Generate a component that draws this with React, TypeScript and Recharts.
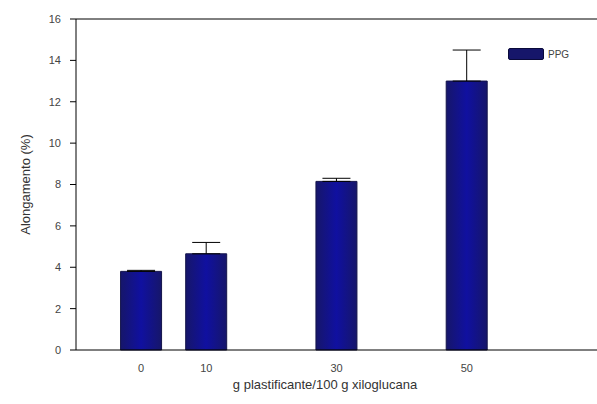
import React from "react";
import { BarChart, Bar, XAxis, YAxis, ErrorBar, ReferenceLine } from "recharts";

// g plastificante / 100 g xiloglucana
const doses = [0, 10, 30, 50];
// alongamento (%)
const alongamento = [3.8, 4.65, 8.15, 13.0];
// desvio (só para cima)
const desvio = [0.05, 0.55, 0.15, 1.5];
const yTicks = [0, 2, 4, 6, 8, 10, 12, 14, 16];

const data = doses.map((d, i) => ({
  dose: d,
  PPG: alongamento[i],
  err: [0, desvio[i]],
}));

const font = '"Liberation Sans", Arial, sans-serif';

function YLabel(props: any) {
  const { viewBox } = props;
  const x = 25;
  const y = viewBox.y + viewBox.height / 2;
  return (
    <text
      x={x}
      y={y}
      transform={`rotate(-90, ${x}, ${y})`}
      textAnchor="middle"
      dominantBaseline="central"
      fontFamily={font}
      fontSize={13}
      fill="#333"
    >
      Alongamento (%)
    </text>
  );
}

function XLabel(props: any) {
  const { viewBox } = props;
  return (
    <text
      x={325}
      y={viewBox.y + 39}
      textAnchor="middle"
      fontFamily={font}
      fontSize={13}
      fill="#333"
    >
      g plastificante/100 g xiloglucana
    </text>
  );
}

export default function App() {
  return (
    <div style={{ position: "absolute", left: 0, top: 0, background: "#fff" }}>
      <BarChart
        width={597}
        height={404}
        data={data}
        margin={{ top: 19, right: 0, bottom: 0, left: 36 }}
      >
        <defs>
          <linearGradient id="barFill" x1="0" y1="0" x2="1" y2="0">
            <stop offset="0%" stopColor="#16166a" />
            <stop offset="50%" stopColor="#1010a0" />
            <stop offset="100%" stopColor="#16166a" />
          </linearGradient>
        </defs>
        <XAxis
          dataKey="dose"
          type="number"
          domain={[-10, 70]}
          ticks={[0, 10, 30, 50]}
          allowDataOverflow
          height={54}
          stroke="#000"
          tickLine={false}
          tickMargin={8}
          tick={{ fontSize: 11, fill: "#444", fontFamily: font }}
          label={<XLabel />}
        />
        <YAxis
          type="number"
          domain={[0, 16]}
          ticks={yTicks}
          width={40}
          stroke="#000"
          tickSize={6}
          tickMargin={3}
          tick={{ fontSize: 11, fill: "#444", fontFamily: font, dx: -6 }}
          label={<YLabel />}
        />
        <ReferenceLine y={16} stroke="#000" />
        <Bar
          dataKey="PPG"
          barSize={41}
          fill="url(#barFill)"
          stroke="#14144a"
          strokeWidth={1}
          isAnimationActive={false}
        >
          <ErrorBar dataKey="err" width={14} stroke="#000" strokeWidth={1} direction="y" />
        </Bar>
      </BarChart>
      <div
        style={{
          position: "absolute",
          left: 508,
          top: 48,
          display: "flex",
          alignItems: "center",
          fontFamily: font,
        }}
      >
        <div
          style={{
            width: 34,
            height: 10,
            background: "#16166a",
            border: "1px solid #0a0a3a",
            borderRadius: 2,
          }}
        />
        <span style={{ marginLeft: 4, fontSize: 10, color: "#444" }}>PPG</span>
      </div>
    </div>
  );
}
